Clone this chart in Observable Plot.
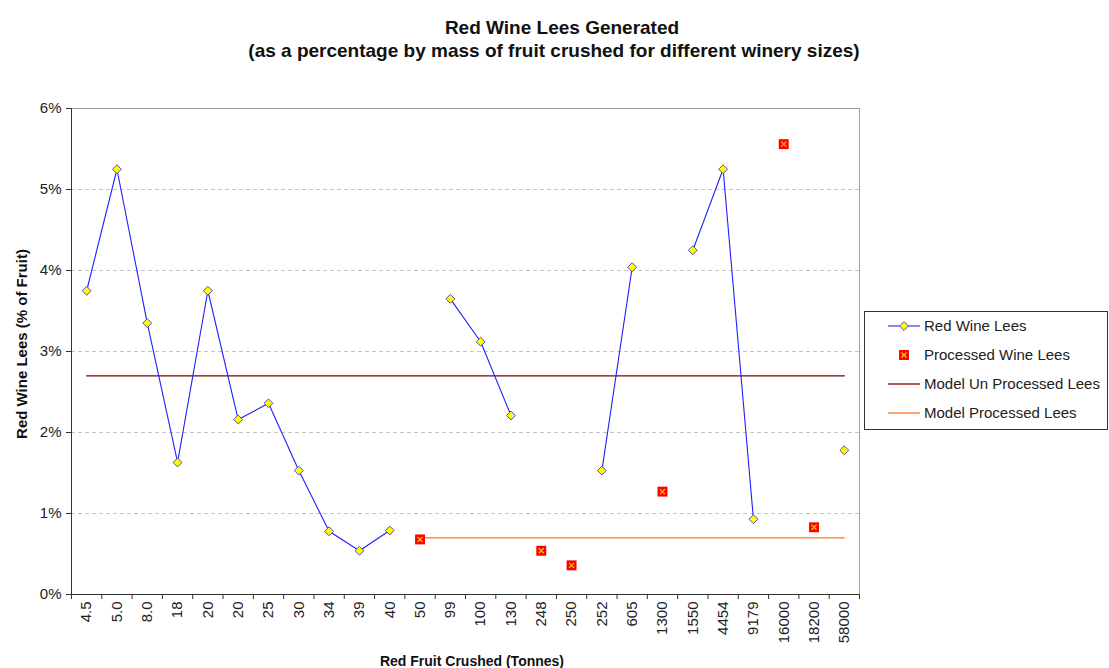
<!DOCTYPE html>
<html>
<head>
<meta charset="utf-8">
<script src="https://cdn.jsdelivr.net/npm/d3@7"></script>
<script src="https://cdn.jsdelivr.net/npm/@observablehq/plot@0.6"></script>
<style>
  html, body { margin: 0; padding: 0; background: #fff; }
  #chart svg { display: block; }
</style>
</head>
<body>
<div id="chart"></div>
<script>
// Winery size categories (tonnes of red fruit crushed)
const sizes = ["4.5", "5.0", "8.0", "18", "20", "20", "25", "30", "34", "39", "40", "50", "99",
  "100", "130", "248", "250", "252", "605", "1300", "1550", "4454", "9179", "16000", "18200", "58000"];

// Red wine lees, % of fruit mass (null = no measurement)
const lees = [3.75, 5.25, 3.35, 1.63, 3.75, 2.16, 2.36, 1.53, 0.78, 0.54, 0.79, null, 3.65,
  3.12, 2.21, null, null, 1.53, 4.04, null, 4.25, 5.25, 0.93, null, null, 1.78];

// Processed wine lees, % of fruit mass
const processed = [null, null, null, null, null, null, null, null, null, null, null, 0.68, null,
  null, null, 0.54, 0.36, null, null, 1.27, null, null, null, 5.56, 0.83, null];

// Model values
const modelUnprocessed = [2.7, 2.7, 2.7, 2.7, 2.7, 2.7, 2.7, 2.7, 2.7, 2.7, 2.7, 2.7, 2.7,
  2.7, 2.7, 2.7, 2.7, 2.7, 2.7, 2.7, 2.7, 2.7, 2.7, 2.7, 2.7, 2.7];
const modelProcessed = [null, null, null, null, null, null, null, null, null, null, null, 0.7, 0.7,
  0.7, 0.7, 0.7, 0.7, 0.7, 0.7, 0.7, 0.7, 0.7, 0.7, 0.7, 0.7, 0.7];

const yTicks = [0, 1, 2, 3, 4, 5, 6];
const gridTicks = [1, 2, 3, 4, 5];

const num = v => (v == null ? NaN : v);
const rows = sizes.map((s, i) => ({
  x: i + 0.5,
  lees: num(lees[i]),
  processed: num(processed[i]),
  model: num(modelUnprocessed[i]),
  modelP: num(modelProcessed[i])
}));

const BLUE = "#1f1fff";
const MAROON = "#800000";
const ORANGE = "#ff7426";
const font = "'Liberation Sans', Arial, sans-serif";

const chart = Plot.plot({
  width: 1109,
  height: 668,
  marginLeft: 71,
  marginRight: 250,
  marginTop: 108,
  marginBottom: 74,
  x: { domain: [0, sizes.length], axis: null },
  y: { domain: [0, 6], axis: null },
  style: {
    fontFamily: font,
    fontSize: "15px",
    color: "#000",
    background: "#fff"
  },
  marks: [
    Plot.ruleY(gridTicks, { stroke: "#c4c4c4", strokeDasharray: "4,3" }),
    Plot.frame({ stroke: "#a0a0a0" }),
    Plot.ruleX([0], { stroke: "#333" }),
    Plot.ruleY([0], { stroke: "#333" }),
    Plot.axisY({ ticks: yTicks, tickSize: 5, tickPadding: 5, tickFormat: d => d + "%", label: null, stroke: "#333", fill: "#222" }),
    Plot.axisX({ ticks: d3.range(sizes.length + 1), tickSize: 5, tickFormat: () => "", label: null, stroke: "#333" }),
    Plot.axisX({ ticks: rows.map(r => r.x), tickSize: 0, tickPadding: 7, tickRotate: -90,
      tickFormat: d => sizes[Math.round(d - 0.5)], label: null, fill: "#222" }),
    Plot.line(rows, { x: "x", y: "model", stroke: MAROON, strokeWidth: 1.3 }),
    Plot.line(rows, { x: "x", y: "modelP", stroke: ORANGE, strokeWidth: 1.3 }),
    Plot.line(rows, { x: "x", y: "lees", stroke: BLUE, strokeWidth: 1.1 }),
    Plot.dot(rows, { x: "x", y: "lees", symbol: "diamond2", r: 4, fill: "#ffff00", stroke: "#4b4bd6", strokeWidth: 1 }),
    Plot.dot(rows, { x: "x", y: "processed", symbol: "square", r: 5.6, fill: "#ff0000" }),
    Plot.dot(rows, { x: "x", y: "processed", symbol: "times", r: 2.4, stroke: "#ffcc00", strokeWidth: 1.2 })
  ]
});

document.getElementById("chart").appendChild(chart);

// Titles, axis titles and legend
const svg = d3.select(chart);

svg.append("text").attr("x", 562).attr("y", 34).attr("text-anchor", "middle")
  .attr("font-family", font).attr("font-size", 19).attr("font-weight", "bold").attr("fill", "#111")
  .text("Red Wine Lees Generated");
svg.append("text").attr("x", 554).attr("y", 57).attr("text-anchor", "middle")
  .attr("font-family", font).attr("font-size", 19).attr("font-weight", "bold").attr("fill", "#111")
  .text("(as a percentage by mass of fruit crushed for different winery sizes)");

svg.append("text").attr("transform", "translate(27,344) rotate(-90)").attr("text-anchor", "middle")
  .attr("font-family", font).attr("font-size", 15).attr("font-weight", "bold").attr("fill", "#111")
  .text("Red Wine Lees (% of Fruit)");
svg.append("text").attr("x", 472).attr("y", 666).attr("text-anchor", "middle")
  .attr("font-family", font).attr("font-size", 14).attr("font-weight", "bold").attr("fill", "#111")
  .text("Red Fruit Crushed (Tonnes)");

const legend = svg.append("g").attr("font-family", font).attr("font-size", 15).attr("text-anchor", "start");
legend.append("rect").attr("x", 864.5).attr("y", 311.5).attr("width", 243).attr("height", 118)
  .attr("fill", "#fff").attr("stroke", "#333");

const items = [
  { label: "Red Wine Lees", kind: "lineDot", y: 326 },
  { label: "Processed Wine Lees", kind: "square", y: 355 },
  { label: "Model Un Processed Lees", kind: "maroon", y: 384 },
  { label: "Model Processed Lees", kind: "orange", y: 413 }
];
for (const it of items) {
  if (it.kind === "lineDot") {
    legend.append("line").attr("x1", 888).attr("x2", 920).attr("y1", it.y).attr("y2", it.y)
      .attr("stroke", BLUE).attr("stroke-width", 1.1);
    legend.append("path").attr("transform", `translate(904,${it.y})`)
      .attr("d", d3.symbol(d3.symbolDiamond2, Math.PI * 16)())
      .attr("fill", "#ffff00").attr("stroke", "#4b4bd6");
  } else if (it.kind === "square") {
    legend.append("path").attr("transform", `translate(904,${it.y})`)
      .attr("d", d3.symbol(d3.symbolSquare, Math.PI * 5.6 * 5.6)())
      .attr("fill", "#ff0000");
    legend.append("path").attr("transform", `translate(904,${it.y})`)
      .attr("d", d3.symbol(d3.symbolTimes, Math.PI * 2.4 * 2.4)())
      .attr("fill", "none").attr("stroke", "#ffcc00").attr("stroke-width", 1.2);
  } else {
    legend.append("line").attr("x1", 888).attr("x2", 920).attr("y1", it.y).attr("y2", it.y)
      .attr("stroke", it.kind === "maroon" ? MAROON : ORANGE).attr("stroke-width", 1.3);
  }
  legend.append("text").attr("x", 924).attr("y", it.y + 5).attr("fill", "#222").text(it.label);
}
</script>
</body>
</html>
